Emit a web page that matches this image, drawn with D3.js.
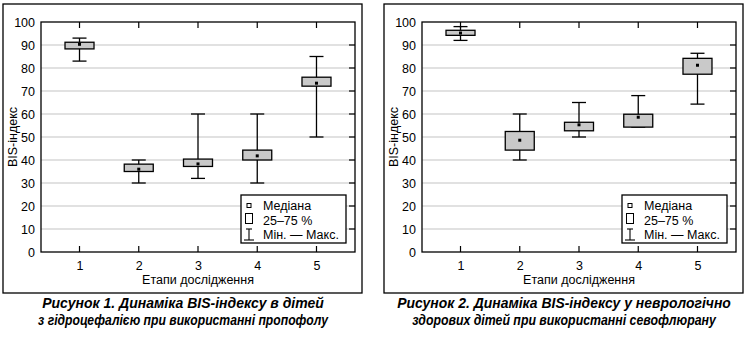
<!DOCTYPE html>
<html><head><meta charset="utf-8">
<script src="https://cdn.jsdelivr.net/npm/d3@7/dist/d3.min.js"></script>
<style>
body{margin:0;background:#fff;}
svg{display:block;}
text{font-family:"Liberation Sans",Arial,sans-serif;fill:#000;}
.cap{font-family:"Liberation Sans",Arial,sans-serif;font-weight:bold;font-style:italic;font-size:15px;}
</style></head>
<body>
<svg id="c" width="746" height="343"></svg>
<script>
const stages = [1, 2, 3, 4, 5];
const yTicks = [0, 10, 20, 30, 40, 50, 60, 70, 80, 90, 100];
// Figure 1 (propofol)
const f1Min = [83, 30, 32, 30, 50];
const f1Q1 = [88.3, 35, 37.2, 40, 72.1];
const f1Med = [90.3, 36, 38.3, 41.8, 73.4];
const f1Q3 = [91.2, 38.2, 40.4, 44.3, 76];
const f1Max = [93, 40, 60, 60, 85];
// Figure 2 (sevoflurane)
const f2Min = [92, 40, 50, 54.3, 64.3];
const f2Q1 = [94.2, 44.3, 52.7, 54.3, 77.3];
const f2Med = [95.2, 48.6, 55.3, 58.6, 81.2];
const f2Q3 = [96.4, 52.4, 56.4, 59.9, 84.2];
const f2Max = [98, 60, 65, 68, 86.4];
const yLabel = "BIS-індекс";
const xLabel = "Етапи дослідження";
const legendItems = ["Медіана", "25–75 %", "Мін. — Макс."];
const captions1 = ["Рисунок 1.  Динаміка BIS-індексу в дітей", "з гідроцефалією при використанні пропофолу"];
const captions2 = ["Рисунок 2. Динаміка BIS-індексу у неврологічно", "здорових дітей при використанні севофлюрану"];
const capWidths1 = [282, 290];
const capWidths2 = [334, 304];

const svg = d3.select("#c");

function panel(ox, mins, q1, med, q3, maxs, caps, capW) {
  const g = svg.append("g").attr("transform", `translate(${ox},0)`);
  // outer frame
  g.append("rect").attr("x", 3).attr("y", 4).attr("width", 359).attr("height", 289)
    .attr("fill", "none").attr("stroke", "#000").attr("stroke-width", 1.3);
  const L = 41, R = 355, T = 22, B = 252;
  const x = d3.scaleLinear().domain([0.35, 5.65]).range([L, R]);
  const y = d3.scaleLinear().domain([0, 100]).range([B, T]);
  // gridlines
  g.append("g").selectAll("line").data(yTicks.filter(v => v > 0 && v < 100)).join("line")
    .attr("x1", L).attr("x2", R).attr("y1", d => y(d)).attr("y2", d => y(d))
    .attr("stroke", "#c4c4c4").attr("stroke-width", 1.2);
  // right inside ticks
  g.append("g").selectAll("line").data(yTicks.filter(v => v > 0 && v < 100)).join("line")
    .attr("x1", R - 6).attr("x2", R).attr("y1", d => y(d)).attr("y2", d => y(d))
    .attr("stroke", "#000").attr("stroke-width", 1.2);
  // y axis labels
  const ya = g.append("g").attr("transform", `translate(${L},0)`)
    .call(d3.axisLeft(y).tickValues(yTicks).tickSize(0).tickPadding(6));
  ya.select(".domain").remove();
  ya.selectAll("text").attr("font-size", 12.5).attr("font-family", "Liberation Sans, Arial, sans-serif");
  // x axis labels
  const xa = g.append("g").attr("transform", `translate(0,${B})`)
    .call(d3.axisBottom(x).tickValues(stages).tickSize(0).tickPadding(9).tickFormat(d3.format("d")));
  xa.select(".domain").remove();
  xa.selectAll("text").attr("font-size", 12.5).attr("font-family", "Liberation Sans, Arial, sans-serif");
  // top & bottom inside ticks
  g.append("g").selectAll("line").data(stages).join("line")
    .attr("x1", d => x(d)).attr("x2", d => x(d)).attr("y1", T).attr("y2", T + 6)
    .attr("stroke", "#000").attr("stroke-width", 1.2);
  g.append("g").selectAll("line").data(stages).join("line")
    .attr("x1", d => x(d)).attr("x2", d => x(d)).attr("y1", B).attr("y2", B - 6)
    .attr("stroke", "#000").attr("stroke-width", 1.2);
  // boxes
  const bw = 29, cw = 14;
  const bx = g.append("g");
  stages.forEach((s, i) => {
    const cx = x(s);
    bx.append("line").attr("x1", cx).attr("x2", cx).attr("y1", y(mins[i])).attr("y2", y(maxs[i]))
      .attr("stroke", "#000").attr("stroke-width", 1.3);
    bx.append("line").attr("x1", cx - cw / 2).attr("x2", cx + cw / 2).attr("y1", y(maxs[i])).attr("y2", y(maxs[i]))
      .attr("stroke", "#000").attr("stroke-width", 1.3);
    bx.append("line").attr("x1", cx - cw / 2).attr("x2", cx + cw / 2).attr("y1", y(mins[i])).attr("y2", y(mins[i]))
      .attr("stroke", "#000").attr("stroke-width", 1.3);
    bx.append("rect").attr("x", cx - bw / 2).attr("y", y(q3[i])).attr("width", bw)
      .attr("height", y(q1[i]) - y(q3[i])).attr("fill", "#c9c9c9").attr("stroke", "#000").attr("stroke-width", 1.3);
    bx.append("rect").attr("x", cx - 1.5).attr("y", y(med[i]) - 1.5).attr("width", 3).attr("height", 3).attr("fill", "#000");
  });
  // plot frame
  g.append("rect").attr("x", L).attr("y", T).attr("width", R - L).attr("height", B - T)
    .attr("fill", "none").attr("stroke", "#000").attr("stroke-width", 1.3);
  // axis titles
  g.append("text").attr("x", (L + R) / 2).attr("y", 284).attr("text-anchor", "middle")
    .attr("font-size", 12.5).text(xLabel);
  g.append("text").attr("transform", `translate(17,${(T + B) / 2}) rotate(-90)`).attr("text-anchor", "middle")
    .attr("font-size", 12.5).text(yLabel);
  // legend
  const lx = 241, ly = 195, lw = 105, lh = 48;
  const lg = g.append("g");
  lg.append("rect").attr("x", lx).attr("y", ly).attr("width", lw).attr("height", lh)
    .attr("fill", "#fff").attr("stroke", "#000").attr("stroke-width", 1.3);
  const sx = 249;
  lg.append("rect").attr("x", sx - 2).attr("y", 203.5).attr("width", 4).attr("height", 4)
    .attr("fill", "none").attr("stroke", "#000").attr("stroke-width", 1);
  lg.append("rect").attr("x", sx - 3.5).attr("y", 213.5).attr("width", 7).attr("height", 10)
    .attr("fill", "none").attr("stroke", "#000").attr("stroke-width", 1);
  lg.append("line").attr("x1", sx).attr("x2", sx).attr("y1", 229).attr("y2", 240).attr("stroke", "#000").attr("stroke-width", 1.1);
  lg.append("line").attr("x1", sx - 3).attr("x2", sx + 3).attr("y1", 229).attr("y2", 229).attr("stroke", "#000").attr("stroke-width", 1.1);
  lg.append("line").attr("x1", sx - 5).attr("x2", sx + 5).attr("y1", 240).attr("y2", 240).attr("stroke", "#000").attr("stroke-width", 1.1);
  lg.selectAll("text.li").data(legendItems).join("text").attr("class", "li")
    .attr("x", 263).attr("y", (d, i) => 210 + i * 14.5).attr("font-size", 12.5).text(d => d);
  // captions (condensed via horizontal scale)
  g.selectAll("text.cap").data(caps).join("text").attr("class", "cap")
    .attr("text-anchor", "middle").text(d => d)
    .attr("transform", function (d, i) {
      const len = this.getComputedTextLength();
      const k = Math.min(1, capW[i] / len);
      return `translate(183,${308 + i * 17}) scale(${k},1)`;
    });
}

panel(0, f1Min, f1Q1, f1Med, f1Q3, f1Max, captions1, capWidths1);
panel(381, f2Min, f2Q1, f2Med, f2Q3, f2Max, captions2, capWidths2);
</script>
</body></html>
